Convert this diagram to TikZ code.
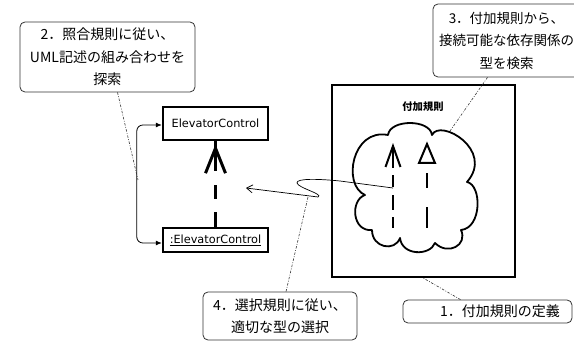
\documentclass[tikz,border=0pt]{standalone}
\usepackage{fontspec}
\setmainfont{DejaVu Sans}
\newfontfamily\jp{Noto Sans CJK JP}
\newfontfamily\dv{DejaVu Sans}
\usetikzlibrary{arrows.meta,calc}
\begin{document}
\begin{tikzpicture}[x=1pt,y=-1pt,
  callout/.style={draw=black!80, line width=0.8pt, rounded corners=5pt,
    font=\jp\fontsize{14}{22.5}\selectfont, align=center, inner sep=0pt},
  cls/.style={draw, line width=2.4pt, font=\dv\fontsize{11.3}{13}\selectfont, inner sep=0pt},
  note/.style={draw=black!80, line width=0.6pt, dash pattern=on 2.5pt off 1.5pt on 0.8pt off 1.5pt},
  conn/.style={line width=0.8pt, {Latex[length=6pt,width=5pt]}-{Latex[length=6pt,width=5pt]}, rounded corners=6pt},
  depline/.style={line width=3pt},
  inner/.style={line width=2pt},
]
\useasboundingbox (0,0) rectangle (574,342);
\clip (0,0) rectangle (574,342);

% callouts
\node[callout, minimum width=175pt, minimum height=70pt] (c2) at (107.5,57)
  {2．照合規則に従い、\\UML記述の組み合わせを\\探索};
\node[callout, minimum width=147pt, minimum height=73pt, font=\jp\fontsize{13.5}{22.5}\selectfont] (c3) at (506.5,40.5)
  {3．付加規則から、\\接続可能な依存関係の\\型を検索};
\node[callout, minimum width=154pt, minimum height=48pt] (c4) at (280,316)
  {4．選択規則に従い、\\適切な型の選択};
\node[callout, minimum width=169pt, minimum height=23pt] (c1) at (487.5,311.5)
  {\hspace{25pt}1．付加規則の定義};

% classes
\node[cls, minimum width=105pt, minimum height=33pt] (ec1) at (215.5,123.5) {ElevatorControl};
\node[cls, minimum width=105pt, minimum height=24pt] (ec2) at (215.5,240) {\underline{:ElevatorControl}};

% left connector
\draw[conn] ([yshift=-1.5pt]ec1.west) -- ++(-25,0) |- ([yshift=-3pt]ec2.west);

% dependency arrow
\draw[depline, dash pattern=on 15pt off 13pt on 14pt off 14pt on 40pt] (ec2.north) -- (ec1.south);
\draw[depline, miter limit=10] ($(ec1.south)+(-10,32)$) -- ($(ec1.south)+(0,7)$) -- ($(ec1.south)+(10,32)$);

% rule frame
\node[draw, line width=2.4pt, minimum width=183pt, minimum height=192pt, inner sep=0pt] (frame) at (423.5,181) {};
\node[font=\jp\bfseries\fontsize{10.3}{12}\selectfont] (flabel) at (423,107) {付加規則};

% cloud
\draw[line width=1.8pt, line join=round]
  (388,135) .. controls (390,119) and (430,119) .. (432,135)
  .. controls (440,118) and (495,150) .. (467,182)
  .. controls (482,185) and (482,228) .. (461,230)
  .. controls (468,245) and (448,256) .. (435,243)
  .. controls (430,256) and (402,256) .. (400,238)
  .. controls (395,252) and (372,248) .. (372,230)
  .. controls (352,232) and (350,200) .. (365,195)
  .. controls (342,185) and (352,128) .. (388,135) -- cycle;

% arrows in cloud
\draw[inner, dash pattern=on 11pt off 7pt on 15pt off 8pt on 12pt off 7pt on 30pt] (393,228) -- (393,146);
\draw[inner, miter limit=10] (385.5,167) -- (393,146) -- (400.5,167);
\draw[inner, dash pattern=on 21pt off 19pt on 15pt off 20pt] (427,228) -- (427,163);
\draw[inner, fill=white, line join=miter] (419,163) -- (427,144) -- (435,163) -- cycle;

% wavy connector
\coordinate (w0) at (246,188);
\coordinate (w1) at (393,188);
\draw[line width=0.7pt, {Straight Barb[length=6pt,width=8pt]}-] (w0) -- (318,197)
  .. controls (324,194) and (298,188) .. (297,183)
  .. controls (296,178) and (320,179) .. (340,181) -- (w1);

% note connectors
\coordinate (p2) at (138,180);
\coordinate (p3) at (450,131);
\coordinate (p4) at (308,197);
\draw[note] ($(c2.south)+(10,0)$) -- (p2);
\draw[note] ($(c3.south)+(-19,0)$) -- (p3);
\draw[note] ($(c4.north)+(6,0)$) -- (p4);
\draw[note] ($(c1.north)+(-27,0)$) -- (frame.south);
\end{tikzpicture}
\end{document}
